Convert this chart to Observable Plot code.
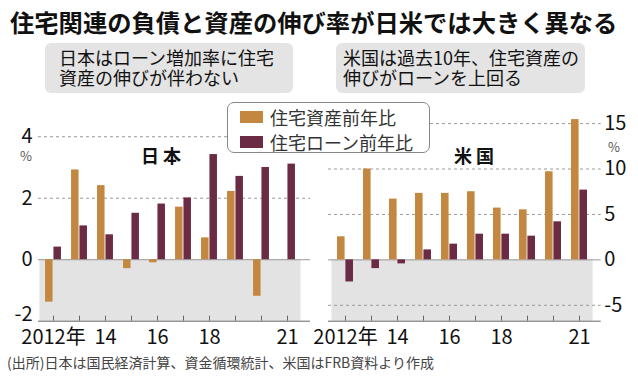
<!DOCTYPE html>
<html><head><meta charset="utf-8">
<script src="https://cdn.jsdelivr.net/npm/d3@7"></script>
<script src="https://cdn.jsdelivr.net/npm/@observablehq/plot@0.6"></script>
<style>
body{margin:0;background:#fff;}
#wrap{position:relative;width:638px;height:380px;overflow:hidden;font-family:"Noto Sans CJK JP","Noto Sans",sans-serif;color:#111;}
.abs{position:absolute;white-space:nowrap;}
.box{position:absolute;background:#e4e4e4;border-radius:6px;font-size:18px;line-height:20px;box-sizing:border-box;}
.plot{position:absolute;top:100px;width:320px;height:250px;}
</style></head><body><div id="wrap">
<div class="abs" id="title" style="left:10px;top:8px;font-size:24.3px;font-weight:bold;line-height:28px;"></div>
<div class="box" id="sub1" style="left:45px;top:43px;width:248px;height:50px;padding:4px 0 0 14px;"></div>
<div class="box" id="sub2" style="left:336px;top:43px;width:249px;height:50px;padding:4px 0 0 7px;"></div>
<div id="plotJ" class="plot" style="left:0px;"></div>
<div id="plotU" class="plot" style="left:318px;"></div>
<div class="abs" id="nameJ" style="left:161px;top:143px;transform:translateX(-50%);font-size:18px;font-weight:bold;line-height:24px;"></div>
<div class="abs" id="nameU" style="left:474px;top:143px;transform:translateX(-50%);font-size:18px;font-weight:bold;line-height:24px;"></div>
<div class="abs" style="left:26px;top:148px;transform:translateX(-50%);font-size:13px;color:#555;line-height:16px;">%</div>
<div class="abs" style="left:614px;top:139px;transform:translateX(-50%);font-size:13px;color:#555;line-height:16px;">%</div>
<div class="abs" id="legend" style="left:227px;top:102px;width:203px;height:51px;box-sizing:border-box;background:#fff;border:1px solid #888;border-radius:7px;"></div>
<div class="abs" id="caption" style="left:7px;top:353px;font-size:14px;color:#444;line-height:18px;"></div>
</div>
<script>
const titleText = "住宅関連の負債と資産の伸び率が日米では大きく異なる";
const subJ = ["日本はローン増加率に住宅", "資産の伸びが伴わない"];
const subU = ["米国は過去10年、住宅資産の", "伸びがローンを上回る"];
const panelNames = ["日 本", "米 国"];
const seriesNames = ["住宅資産前年比", "住宅ローン前年比"];
const captionText = "(出所)日本は国民経済計算、資金循環統計、米国はFRB資料より作成";

const years = [2012, 2013, 2014, 2015, 2016, 2017, 2018, 2019, 2020, 2021];
const yearLabels = {2012: "2012年", 2014: "14", 2016: "16", 2018: "18", 2021: "21"};

const jpAsset = [-1.38, 2.92, 2.41, -0.29, -0.10, 1.71, 0.71, 2.22, -1.19, null];
const jpLoan  = [0.41, 1.10, 0.81, 1.51, 1.81, 2.01, 3.42, 2.71, 3.00, 3.11];
const usAsset = [2.54, 10.0, 6.69, 7.32, 7.32, 7.50, 5.70, 5.51, 9.70, 15.44];
const usLoan  = [-2.43, -0.96, -0.44, 1.10, 1.73, 2.83, 2.83, 2.61, 4.19, 7.68];

const jpTicks = [-2, 0, 2, 4];
const usTicks = [-5, 0, 5, 10, 15];

const colors = ["#c4873f", "#6b2b45"];
const bandColor = "#e3e3e4";

document.getElementById("title").textContent = titleText;
document.getElementById("sub1").innerHTML = subJ.join("<br>");
document.getElementById("sub2").innerHTML = subU.join("<br>");
document.getElementById("nameJ").textContent = panelNames[0];
document.getElementById("nameU").textContent = panelNames[1];
document.getElementById("caption").textContent = captionText;
document.getElementById("legend").innerHTML = seriesNames.map((s, i) =>
  `<div style="position:absolute;left:12px;top:${8 + i * 25}px;width:23px;height:12px;background:${colors[i]};"></div>` +
  `<div style="position:absolute;left:42px;top:${3 + i * 25}px;font-size:18px;line-height:22px;color:#333;">${s}</div>`
).join("");

const W = 320, H = 250, MT = 18.1, MB = 29.3;

function panel(container, {asset, loan, domain, ticks, grid, xRange, ml, mr, anchor, lowTick}) {
  const rows = years.map((y, i) => ({year: y, asset: asset[i], loan: loan[i]}));
  const step = (xRange[1] - xRange[0]) / years.length;
  const barW = 8.4;
  const pxPerUnit = (H - MT - MB) / (domain[1] - domain[0]);
  const tickLen = 5 / pxPerUnit;
  const fmt = d => String(d);
  const mainTicks = ticks.filter(t => t !== lowTick);
  const svg = Plot.plot({
    width: W, height: H,
    marginTop: MT, marginBottom: MB, marginLeft: ml, marginRight: mr,
    style: {fontFamily: "'Noto Sans CJK JP', 'Noto Sans', sans-serif", color: "#111", background: "transparent", overflow: "visible"},
    x: {type: "band", domain: years, range: xRange, padding: 0, axis: null},
    y: {domain, axis: null},
    marks: [
      Plot.barY(years, {x: d => d, y1: 0, y2: domain[0], fill: bandColor, insetLeft: -0.6, insetRight: -0.6}),
      Plot.ruleY(grid, {stroke: "#9a9a9a", strokeDasharray: "3,3"}),
      Plot.ruleY([0], {stroke: "#9a9a9a"}),
      Plot.barY(rows.filter(d => d.asset != null), {x: "year", y: "asset", fill: colors[0], insetLeft: step / 2 - barW, insetRight: step / 2}),
      Plot.barY(rows, {x: "year", y: "loan", fill: colors[1], insetLeft: step / 2, insetRight: step / 2 - barW}),
      Plot.ruleY([domain[0]], {stroke: "#666"}),
      Plot.ruleX(years, {x: d => d, y1: domain[0], y2: domain[0] + tickLen, stroke: "#666"}),
      Plot.axisX(years, {anchor: "bottom", tickSize: 0, tickPadding: 9, tickFormat: d => yearLabels[d] ?? "", fontSize: 20, fill: "#111", label: null}),
      Plot.axisY(mainTicks, {anchor, tickSize: 0, tickPadding: anchor === "left" ? 6 : 3, tickFormat: fmt, fontSize: 20, fill: "#111", label: null}),
      Plot.axisY([lowTick], {anchor, tickSize: 0, tickPadding: anchor === "left" ? 6 : 3, tickFormat: fmt, fontSize: 20, fill: "#111", label: null, dy: lowTick === domain[0] ? -7 : 0})
    ]
  });
  container.append(svg);
}

panel(document.getElementById("plotJ"), {
  asset: jpAsset, loan: jpLoan, domain: [-2, 4.59], ticks: jpTicks, grid: [2, 4],
  xRange: [35.6, 304.6], ml: 38, mr: 10, anchor: "left", lowTick: -2
});
panel(document.getElementById("plotU"), {
  asset: usAsset, loan: usLoan, domain: [-6.75, 15.55], ticks: usTicks, grid: [-5, 5, 10, 15],
  xRange: [9.9, 278.1], ml: 10, mr: 37.3, anchor: "right", lowTick: -5
});
</script>
</body></html>
